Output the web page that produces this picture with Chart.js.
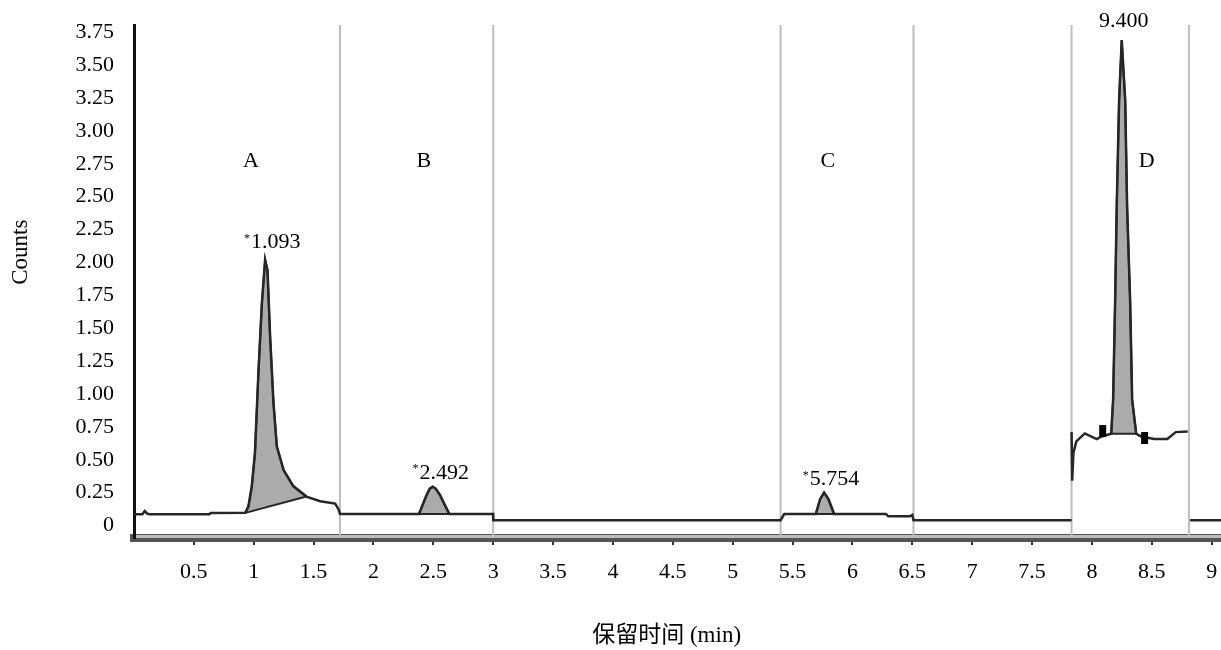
<!DOCTYPE html>
<html>
<head>
<meta charset="utf-8">
<title>Chromatogram</title>
<script src="https://cdn.jsdelivr.net/npm/chart.js@4.4.0/dist/chart.umd.min.js"></script>
<style>
  body { margin: 0; background: #fff; overflow: hidden; }
  canvas { display: block; }
</style>
</head>
<body>
<canvas id="myChart" width="1221" height="650"></canvas>
<script>
//--- Axis data
var xTickValues = [0.5, 1, 1.5, 2, 2.5, 3, 3.5, 4, 4.5, 5, 5.5, 6, 6.5, 7, 7.5, 8, 8.5, 9];
var yTickValues = [0, 0.25, 0.5, 0.75, 1, 1.25, 1.5, 1.75, 2, 2.25, 2.5, 2.75, 3, 3.25, 3.5, 3.75];
var xTitle = '保留时间 (min)';
var yTitle = 'Counts';

//--- Segment borders (min)
var dividerX = [1.72, 3.0, 5.40, 6.51, 7.83, 8.81];

//--- Region / peak labels
var regionNames = ['A', 'B', 'C', 'D'];
var regionX = [0.976, 2.421, 5.795, 8.457];
var regionY = 2.77;

var peakNames = ['1.093', '2.492', '5.754', '9.400'];
var peakStar = [true, true, true, false];
var peakLabelX = [1.184, 2.590, 5.851, 8.266];
var peakLabelY = [2.15, 0.40, 0.35, 3.83];

//--- Trace [time, counts]
var baseA = [[0, 0.085], [0.07, 0.085], [0.09, 0.11], [0.11, 0.09], [0.13, 0.085], [0.63, 0.085], [0.64, 0.095]];
var peakA = [[0.93, 0.096], [0.956, 0.146], [0.984, 0.30], [1.01, 0.55], [1.04, 1.18], [1.068, 1.69], [1.095, 2.02],
    [1.115, 1.94], [1.137, 1.43], [1.165, 0.93], [1.193, 0.60], [1.25, 0.42], [1.33, 0.30], [1.44, 0.22]];
var tailA = [[1.555, 0.184], [1.68, 0.167], [1.71, 0.12], [1.72, 0.088]];
var peakB = [[2.38, 0.088], [2.444, 0.232], [2.47, 0.28], [2.494, 0.295], [2.52, 0.28], [2.555, 0.232], [2.633, 0.088]];
var tailB = [[3.0, 0.088], [3.0, 0.04]];
var baseC = [[5.40, 0.04], [5.43, 0.087]];
var peakC = [[5.694, 0.087], [5.73, 0.2], [5.763, 0.25], [5.80, 0.2], [5.847, 0.087]];
var tailC = [[6.28, 0.087], [6.30, 0.07], [6.48, 0.07], [6.50, 0.08], [6.51, 0.04], [7.83, 0.04]];
var baseD = [[7.83, 0.71], [7.835, 0.34], [7.845, 0.55], [7.87, 0.64], [7.94, 0.70], [8.04, 0.657], [8.08, 0.677]];
var peakD = [[8.161, 0.697], [8.177, 0.955], [8.194, 1.71], [8.207, 2.42], [8.227, 3.23], [8.249, 3.69],
    [8.278, 3.23], [8.294, 2.42], [8.319, 1.71], [8.336, 0.955], [8.37, 0.697]];
var tailD = [[8.41, 0.677], [8.52, 0.657], [8.63, 0.657], [8.70, 0.71], [8.80, 0.714]];
var baseEnd = [[8.82, 0.04], [9.08, 0.04]];

// integration markers
var markerPts = [[8.09, 0.718], [8.44, 0.665]];

//--- Helpers
var serif = '"Liberation Serif", "Times New Roman", "Noto Sans CJK SC", serif';

function pts(arr) {
    return arr.map(function (p) { return { x: p[0], y: p[1] }; });
}

var traceData = pts([].concat(baseA, peakA, tailA, peakB, tailB, baseC, peakC, tailC))
    .concat([{ x: 7.83, y: null }], pts([].concat(baseD, peakD, tailD)), [{ x: 8.81, y: null }], pts(baseEnd));

var dividerData = [];
dividerX.forEach(function (x) {
    dividerData.push({ x: x, y: -1 }, { x: x, y: 5 }, { x: x, y: null });
});

var datasets = [{
    data: traceData,
    borderColor: '#262626',
    borderWidth: 2.5,
    pointRadius: 0,
    fill: false,
    spanGaps: false,
    order: 1
}, {
    data: pts(markerPts),
    showLine: false,
    pointStyle: 'line',
    pointRadius: 6,
    pointBorderWidth: 7,
    pointRotation: 90,
    pointBorderColor: '#000',
    order: 0
}, {
    data: dividerData,
    borderColor: '#bdbdbd',
    borderWidth: 2,
    pointRadius: 0,
    spanGaps: false,
    order: 4
}];

[peakA, peakB, peakC, peakD].forEach(function (p) {
    datasets.push({
        data: pts(p.concat([p[0]])),
        fill: 'shape',
        backgroundColor: '#ababab',
        borderColor: '#262626',
        borderWidth: 2,
        pointRadius: 0,
        order: 2
    });
});

//--- Text on the plot
var textPlugin = {
    id: 'chromText',
    afterDraw: function (chart) {
        var ctx = chart.ctx, xs = chart.scales.x, ys = chart.scales.y, a = chart.chartArea;
        ctx.save();
        // lighter stripe inside the time axis bar
        ctx.strokeStyle = '#bcbcbc';
        ctx.lineWidth = 3;
        ctx.beginPath();
        ctx.moveTo(a.left + 2, a.bottom - 1.5);
        ctx.lineTo(a.right, a.bottom - 1.5);
        ctx.stroke();

        ctx.fillStyle = '#000';
        ctx.textAlign = 'center';
        ctx.textBaseline = 'middle';
        ctx.font = '22px ' + serif;
        regionNames.forEach(function (n, i) {
            ctx.fillText(n, xs.getPixelForValue(regionX[i]), ys.getPixelForValue(regionY));
        });
        peakNames.forEach(function (n, i) {
            var px = xs.getPixelForValue(peakLabelX[i]), py = ys.getPixelForValue(peakLabelY[i]);
            ctx.font = '22px ' + serif;
            ctx.textAlign = 'center';
            ctx.fillText(n, px, py);
            if (peakStar[i]) {
                var w = ctx.measureText(n).width;
                ctx.font = '12px ' + serif;
                ctx.textAlign = 'right';
                ctx.fillText('*', px - w / 2 - 1, py - 4);
            }
        });
        // axis titles
        ctx.font = '23px ' + serif;
        ctx.textAlign = 'center';
        ctx.fillText(xTitle, a.left + (a.right - a.left) * 0.49, chart.height - 14);
        ctx.translate(21, a.top + (a.bottom - a.top) * 0.443);
        ctx.rotate(-Math.PI / 2);
        ctx.fillText(yTitle, 0, 0);
        ctx.restore();
    }
};

new Chart(document.getElementById('myChart'), {
    type: 'line',
    data: { datasets: datasets },
    options: {
        responsive: false,
        animation: false,
        layout: { autoPadding: false, padding: { top: 25, right: 0, left: 0, bottom: 0 } },
        plugins: { legend: { display: false }, tooltip: { enabled: false } },
        scales: {
            x: {
                type: 'linear',
                min: 0,
                max: 9.078,
                afterBuildTicks: function (s) { s.ticks = xTickValues.map(function (v) { return { value: v }; }); },
                afterFit: function (s) { s.height = 112; s.paddingLeft = 0; s.paddingRight = 0; },
                ticks: {
                    autoSkip: false, maxRotation: 0, padding: 14, color: '#000',
                    font: { family: serif, size: 22 },
                    callback: function (v) { return String(v); }
                },
                grid: { drawOnChartArea: false, drawTicks: true, tickLength: 7, color: '#333', lineWidth: 2 },
                border: { display: true, color: '#555', width: 8 }
            },
            y: {
                type: 'linear',
                min: -0.095,
                max: 3.805,
                afterBuildTicks: function (s) { s.ticks = yTickValues.map(function (v) { return { value: v }; }); },
                afterFit: function (s) { s.width = 134; s.paddingTop = 0; s.paddingBottom = 0; },
                ticks: {
                    padding: 20, color: '#000',
                    font: { family: serif, size: 22 },
                    callback: function (v) { return v === 0 ? '0' : v.toFixed(2); }
                },
                grid: { drawOnChartArea: false, drawTicks: false },
                border: { display: true, color: '#111', width: 3 }
            }
        }
    },
    plugins: [textPlugin]
});
</script>
</body>
</html>
